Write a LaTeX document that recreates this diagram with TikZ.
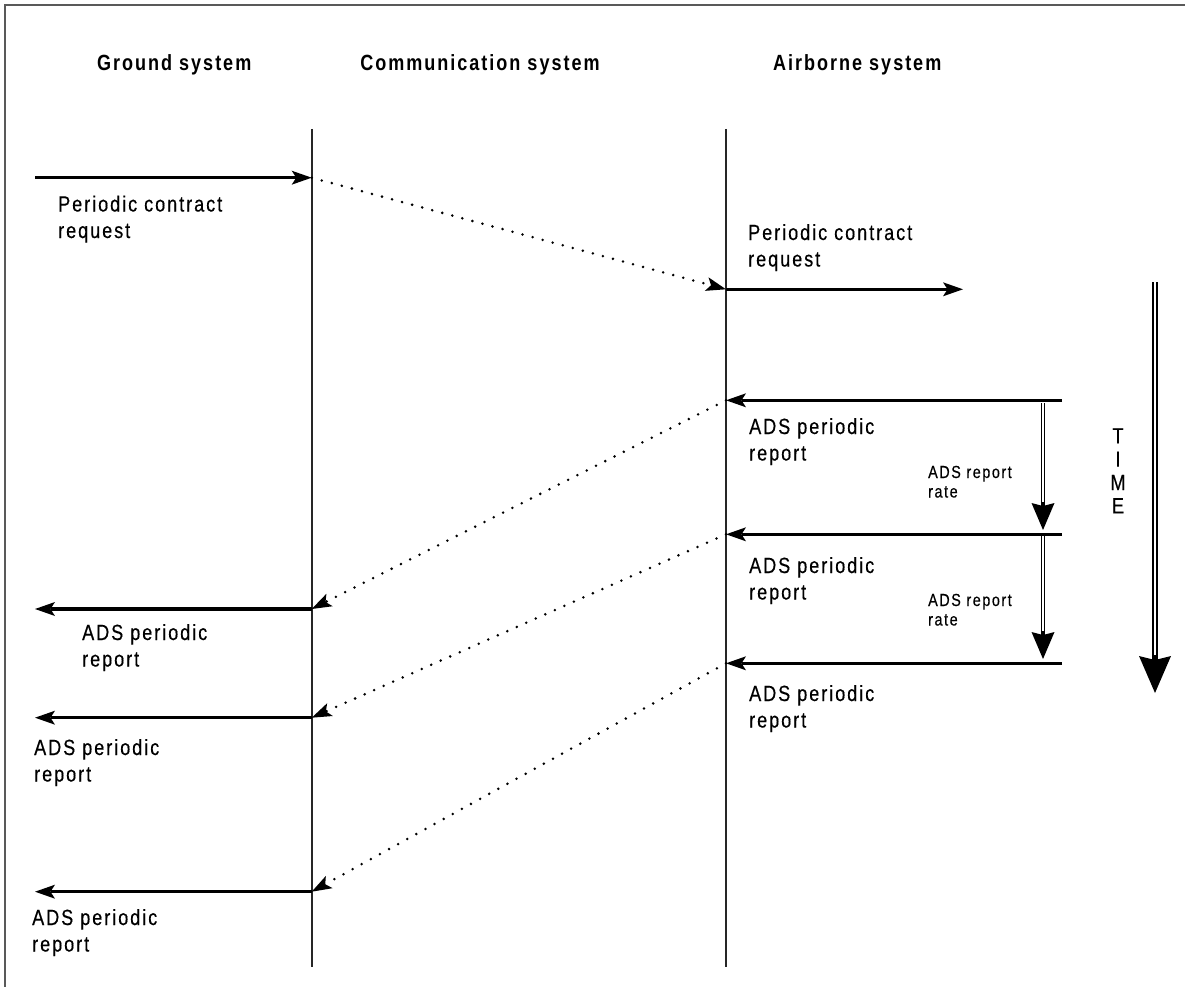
\documentclass[tikz,border=0pt]{standalone}
\usepackage{fontspec}
\setmainfont{Liberation Sans}[FakeStretch=0.82, LetterSpace=9, UprightFeatures={FakeBold=0.4}]
\usetikzlibrary{arrows.meta,calc}

\begin{document}
\begin{tikzpicture}[x=1pt,y=-1pt,
  frame/.style={line width=2pt, draw=black!65},
  lifeline/.style={line width=1.7pt, draw=black!85},
  msg/.style={line width=3.3pt, -{Stealth[length=20pt,width=14pt,inset=4.5pt,line width=0pt]}},
  relay/.style={line width=2.8pt, dash pattern=on 0pt off 10.4pt, line cap=round,
                -{Stealth[length=20pt,width=14pt,inset=4.5pt,line width=0pt]}},
  title/.style={inner sep=0pt, font=\bfseries\fontsize{22}{26.5}\selectfont},
  lbl/.style={anchor=base west, inner sep=0pt, align=left, font=\fontsize{22}{26.5}\selectfont},
  small/.style={anchor=base west, inner sep=0pt, align=left, font=\fontsize{17.5}{19.5}\selectfont},
]
\useasboundingbox (0,0) rectangle (1185,987);

% page frame (top and left edges only)
\draw[frame] (5,987) -- (5,5) -- (1185,5);

% column headings
\node[title, anchor=base west] (hGround) at (97,71) {Ground system};
\node[title, anchor=base] (hComm) at (480,71) {Communication system};
\node[title, anchor=base west] (hAir) at (773,71) {Airborne system};

% lifelines
\coordinate (gTop) at (311.7,129);
\coordinate (gBot) at (311.7,967);
\coordinate (aTop) at (726,129);
\coordinate (aBot) at (726,967);
\draw[lifeline] (gTop) -- (gBot);
\draw[lifeline] (aTop) -- (aBot);

% contract request (labels are placed by the baseline of their last line)
\coordinate (reqIn) at (35,177.7);
\coordinate (gReq) at (311.7,177.7);
\coordinate (aReq) at (726,289.3);
\coordinate (reqOut) at (963,289.3);
\draw[msg] (reqIn) -- (gReq);
\draw[relay] (gReq) -- (aReq);
\draw[msg] (aReq) -- (reqOut);
\node[lbl] (lReqG) at (58,238) {Periodic contract\\request};
\node[lbl] (lReqA) at (748,266.5) {Periodic contract\\request};

% periodic reports, airborne side
\coordinate (src1) at (1062,400.3);
\coordinate (src2) at (1062,534.3);
\coordinate (src3) at (1062,663.3);
\coordinate (a1) at (726,400.3);
\coordinate (a2) at (726,534.3);
\coordinate (a3) at (726,663.3);
\draw[msg] (src1) -- (a1);
\draw[msg] (src2) -- (a2);
\draw[msg] (src3) -- (a3);
\node[lbl] (lA1) at (749,460.5) {ADS periodic\\report};
\node[lbl] (lA2) at (749,599.5) {ADS periodic\\report};
\node[lbl] (lA3) at (749,727.5) {ADS periodic\\report};

% relayed through the communication system
\coordinate (g1) at (311.7,609);
\coordinate (g2) at (311.7,717.7);
\coordinate (g3) at (311.7,891.7);
\draw[relay] (a1) -- (g1);
\draw[relay] (a2) -- (g2);
\draw[relay] (a3) -- (g3);

% periodic reports, ground side
\coordinate (out1) at (35,609);
\coordinate (out2) at (35,717.7);
\coordinate (out3) at (35,891.7);
\draw[msg] (g1) -- (out1);
\draw[msg] (g2) -- (out2);
\draw[msg] (g3) -- (out3);
\node[lbl] (lG1) at (82,666.5) {ADS periodic\\report};
\node[lbl] (lG2) at (34,781.5) {ADS periodic\\report};
\node[lbl] (lG3) at (32,951.5) {ADS periodic\\report};

% report rate intervals
\coordinate (r1Top) at (1043,403);
\coordinate (r1Tip) at (1043,530);
\coordinate (r2Top) at (1043,536);
\coordinate (r2Tip) at (1043,659);
\foreach \t/\h in {r1Top/r1Tip, r2Top/r2Tip}{
  \draw[line width=4.3pt, -{Stealth[length=27pt,width=23pt,inset=3pt,line width=0pt]}] (\t) -- (\h);
  \draw[white, line width=1.3pt] (\t) -- ($(\h)+(0,-28)$);
}
\node[small] (lRate1) at (928,497.5) {ADS report\\rate};
\node[small] (lRate2) at (928,625.5) {ADS report\\rate};

% time axis
\coordinate (timeTop) at (1155,282);
\coordinate (timeTip) at (1155,693);
\draw[line width=6.7pt, -{Stealth[length=37pt,width=32pt,inset=4pt,line width=0pt]}] (timeTop) -- (timeTip);
\draw[white, line width=2pt] (timeTop) -- ($(timeTip)+(0,-38)$);
\node[inner sep=0pt, anchor=base, font=\fontsize{22}{23.3}\selectfont, align=center] (lTime) at (1118,513.3)
  {T\\I\\M\\E};
\end{tikzpicture}
\end{document}
